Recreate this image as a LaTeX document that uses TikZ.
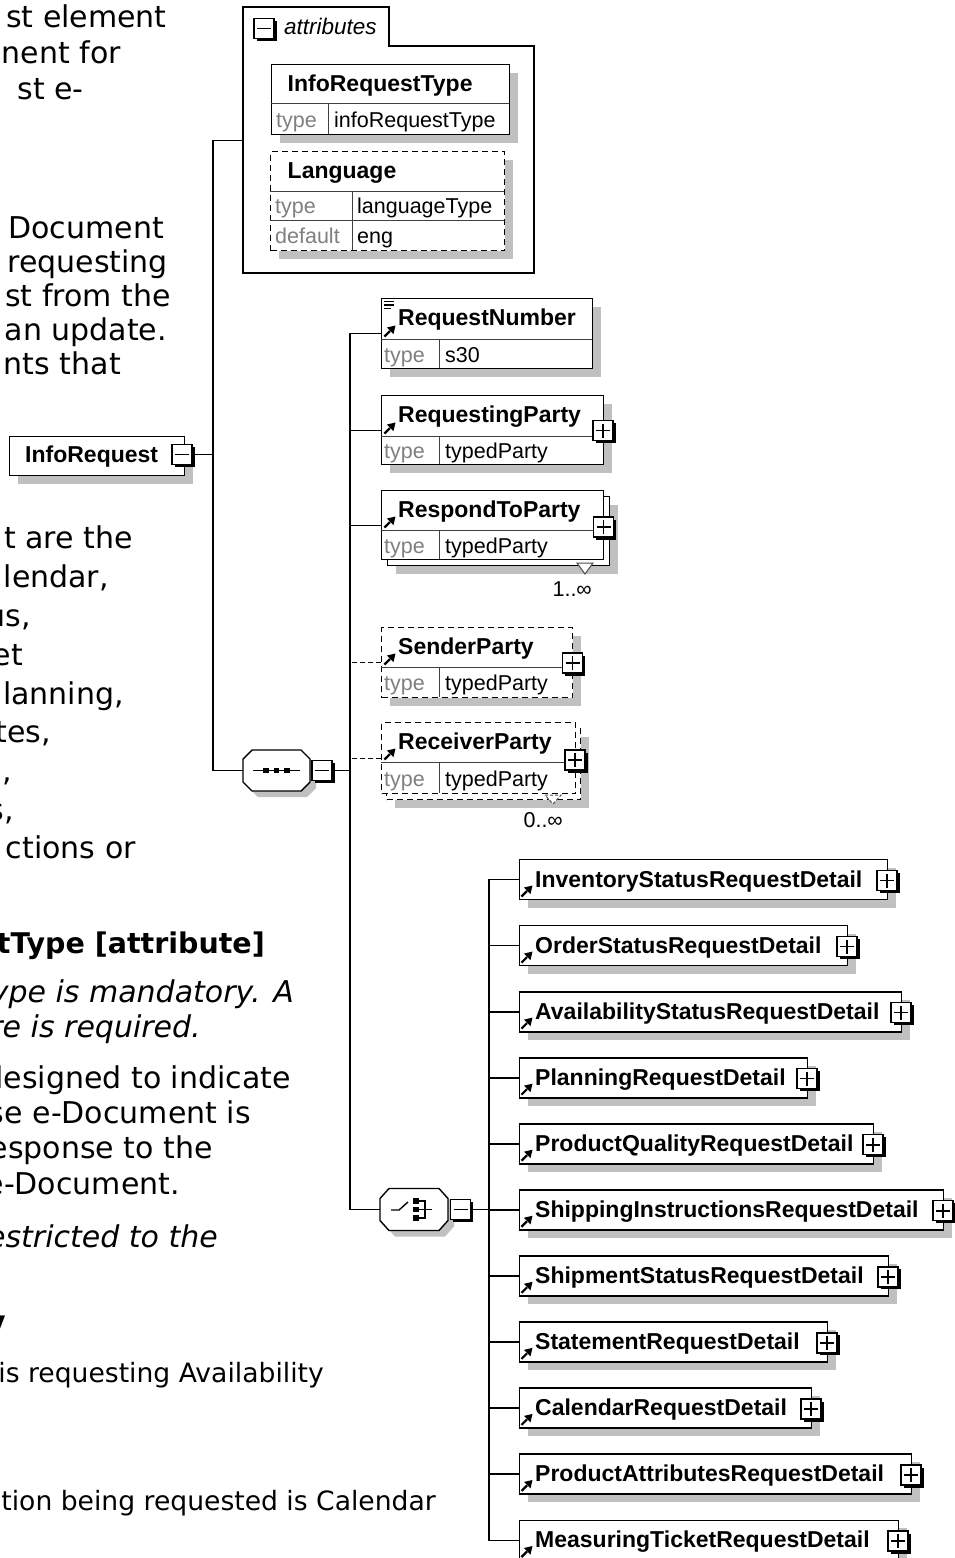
\documentclass[tikz,border=0pt]{standalone}
\usepackage{fontspec}
\setmainfont{DejaVu Sans}
\newfontfamily\liber{Liberation Sans}
\usetikzlibrary{shadows}
\definecolor{shadowgray}{RGB}{192,192,192}
\definecolor{typegray}{RGB}{128,128,128}
\newcommand\dlabel{\liber\bfseries\fontsize{23}{27}\selectfont}
\newcommand\dtype{\liber\fontsize{21.5}{25}\selectfont}
\newcommand\dital{\liber\itshape\fontsize{22.5}{26}\selectfont}
\newcommand\dbody{\fontsize{30}{36}\selectfont}
\newcommand\dhead{\bfseries\fontsize{28.5}{34}\selectfont}
\newcommand\dsmall{\fontsize{26.6}{31}\selectfont}
\newcommand\refarrow[2]{%
  \draw[line width=2.2pt] (#1+1.5,#2-0.5) -- (#1+7,#2-6);
  \fill (#1+12.5,#2-11.5) -- (#1+4,#2-9.5) -- (#1+10.5,#2-3) -- cycle;}
\tikzset{
  ebox/.style={draw=black, line width=1.4pt, fill=white, rectangle, inner sep=0pt, anchor=north west},
  dbox/.style={ebox, dash pattern=on 6pt off 4pt},
  shad/.style={drop shadow={shadow xshift=8pt, shadow yshift=-8pt, fill=shadowgray, opacity=1}},
  pmbase/.style={draw=black, line width=1.4pt, fill=white, minimum size=20pt, inner sep=0pt,
    drop shadow={shadow xshift=2.6pt, shadow yshift=-2.6pt, fill=black, opacity=1}},
  plusb/.style={pmbase, path picture={
    \draw[line width=1.6pt] ([xshift=-7pt]path picture bounding box.center) -- ([xshift=7pt]path picture bounding box.center);
    \draw[line width=1.6pt] ([yshift=-7pt]path picture bounding box.center) -- ([yshift=7pt]path picture bounding box.center);}},
  minusb/.style={pmbase, path picture={
    \draw[line width=1.6pt] ([xshift=-7pt]path picture bounding box.center) -- ([xshift=7pt]path picture bounding box.center);}},
  div/.style={line width=1pt, draw=black!75},
  hdr/.style={font=\dlabel, anchor=base west, inner sep=0pt},
  tlab/.style={font=\dtype, text=typegray, anchor=base west, inner sep=0pt},
  tval/.style={font=\dtype, anchor=base west, inner sep=0pt},
  conn/.style={line width=1.4pt},
  dconn/.style={conn, dash pattern=on 5pt off 3pt},
  bt/.style={font=\dbody, anchor=base east, inner sep=0pt},
  bti/.style={font=\dbody\itshape, anchor=base east, inner sep=0pt},
  anchorbox/.style={inner sep=0pt, draw=none},
}
\begin{document}
\begin{tikzpicture}[x=1pt,y=-1pt]
\useasboundingbox (0,0) rectangle (955,1558);
\fill[white] (0,0) rectangle (955,1558);

% ---------------- left text fragments ----------------
\node[bt] (t1) at (167,27) {st element};
\node[bt] (t2) at (121,63) {nent for};
\node[bt] (t3) at (84,99) {st e-};
\node[bt] (t4) at (164,238) {Document};
\node[bt] (t5) at (168,272) {requesting};
\node[bt] (t6) at (171,306) {st from the};
\node[bt] (t7) at (167,340) {an update.};
\node[bt] (t8) at (121,374) {nts that};
\node[bt] (t9) at (133,548) {t are the};
\node[bt] (t10) at (109,587) {lendar,};
\node[bt] (t11) at (31,626) {us,};
\node[bt] (t12) at (23,665) {et};
\node[bt] (t13) at (124,704) {lanning,};
\node[bt] (t14) at (51,742) {tes,};
\node[bt] (t15) at (12,781) {,};
\node[bt] (t16) at (14,820) {s,};
\node[bt] (t17) at (136,858) {ctions or};
\node[bt, font=\dhead] (t18) at (265,953) {tType [attribute]};
\node[bti] (t19) at (294,1002) {ype is mandatory. A};
\node[bti] (t20) at (201,1037) {re is required.};
\node[bt] (t21) at (291,1088) {lesigned to indicate};
\node[bt] (t22) at (251,1123) {se e-Document is};
\node[bt] (t23) at (213,1158) {esponse to the};
\node[bt] (t24) at (180,1194) {e-Document.};
\node[bti] (t25) at (218,1247) {estricted to the};
\node[bt, font=\dhead] (t26) at (6,1331) {y};
\node[bt, font=\dsmall] (t27) at (324,1382) {is requesting Availability};
\node[bt, font=\dsmall] (t28) at (436,1510) {tion being requested is Calendar};

% ---------------- attributes group ----------------
\node[anchorbox, minimum width=291pt, minimum height=266pt, anchor=north west] (attrs) at (243,7) {};
\draw[line width=1.4pt] (243,273) -- (243,7) -- (389,7) -- (389,46) -- (534,46) -- (534,273) -- cycle;
\node[minusb] (attm) at (264,28.5) {};
\node[font=\dital, anchor=base west, inner sep=0pt] (attl) at (284,34) {attributes};

\node[ebox, shad, minimum width=238pt, minimum height=70pt] (irt) at (271,64) {};
\draw[div] (271,103) -- (509,103);
\draw[div] (328.5,103) -- (328.5,134);
\node[hdr] (irth) at (287.5,91) {InfoRequestType};
\node[tlab] (irtl) at (276,127) {type};
\node[tval] (irtv) at (334,127) {infoRequestType};

\node[dbox, shad, minimum width=234pt, minimum height=99pt] (lang) at (270,151) {};
\draw[div] (270,191) -- (504,191);
\draw[div] (270,220) -- (504,220);
\draw[div] (352,191) -- (352,250);
\node[hdr] (langh) at (287.5,178) {Language};
\node[tlab] (langl1) at (275,213) {type};
\node[tval] (langv1) at (357,213) {languageType};
\node[tlab] (langl2) at (275,243) {default};
\node[tval] (langv2) at (357,243) {eng};

% ---------------- root element ----------------
\node[ebox, shad, minimum width=175pt, minimum height=39pt] (ir) at (9,436) {};
\node[hdr] (irh) at (25,462) {InfoRequest};
\node[minusb] (irm) at (182,454.5) {};

% ---------------- sequence compositor ----------------
\node[anchorbox, minimum width=67pt, minimum height=41pt] (seq) at (276.5,770.5) {};
\path[draw, fill=white, line width=1.4pt, drop shadow={shadow xshift=6pt, shadow yshift=-6pt, fill=shadowgray, opacity=1}]
  (243,759) -- (252,750) -- (301,750) -- (310,759) -- (310,782) -- (301,791) -- (252,791) -- (243,782) -- cycle;
\draw[line width=1.4pt] (253,770.5) -- (300,770.5);
\foreach \xx in {266,276.5,287} \fill (\xx-2.8,767.7) rectangle (\xx+2.8,773.3);
\node[minusb] (seqm) at (322,770.5) {};

% ---------------- choice compositor ----------------
\node[anchorbox, minimum width=68pt, minimum height=42pt] (cho) at (414,1209.5) {};
\path[draw, fill=white, line width=1.4pt, drop shadow={shadow xshift=6pt, shadow yshift=-6pt, fill=shadowgray, opacity=1}]
  (380,1198.5) -- (389,1188.5) -- (439,1188.5) -- (448,1198.5) -- (448,1220.5) -- (439,1230.5) -- (389,1230.5) -- (380,1220.5) -- cycle;
\draw[line width=1.4pt] (391,1210) -- (399,1210) -- (408,1202);
\foreach \yy in {1201,1209.5,1218} \fill (413,\yy-2.6) rectangle (418.5,\yy+2.6);
\draw[line width=1.4pt] (418,1201) -- (425,1201) -- (425,1218) -- (418,1218);
\draw[line width=1.4pt] (418,1209.5) -- (432,1209.5);
\node[minusb] (chm) at (460.5,1209.5) {};

% ---------------- sequence children ----------------
% RequestNumber
\node[ebox, shad, minimum width=211pt, minimum height=70pt] (rn) at (381,298) {};
\draw[div] (381,339) -- (592,339);
\draw[div] (439,339) -- (439,368);
\draw[line width=1.1pt] (384,301.5) -- (394,301.5) (384,305) -- (394,305) (384,308.5) -- (391,308.5);
\refarrow{383}{337}
\node[hdr] (rnh) at (398,325) {RequestNumber};
\node[tlab] (rnl) at (384,362) {type};
\node[tval] (rnv) at (445,362) {s30};

% RequestingParty
\node[ebox, shad, minimum width=222pt, minimum height=69pt] (rp) at (381,395) {};
\draw[div] (381,436) -- (603,436);
\draw[div] (439,436) -- (439,464);
\refarrow{383}{434}
\node[hdr] (rph) at (398,422) {RequestingParty};
\node[tlab] (rpl) at (384,458) {type};
\node[tval] (rpv) at (445,458) {typedParty};
\node[plusb] (rpp) at (603,430.5) {};

% RespondToParty (repeating)
\node[ebox, shad, minimum width=222pt, minimum height=69pt] (rtpb) at (387,496) {};
\node[ebox, minimum width=222pt, minimum height=69pt] (rtp) at (381,490) {};
\draw[div] (381,530) -- (603,530);
\draw[div] (439,530) -- (439,559);
\refarrow{383}{528}
\node[hdr] (rtph) at (398,517) {RespondToParty};
\node[tlab] (rtpl) at (384,553) {type};
\node[tval] (rtpv) at (445,553) {typedParty};
\node[plusb] (rtpp) at (603.5,527) {};
\filldraw[fill=white, draw=black!70, line width=1pt] (577,563) -- (593,563) -- (585,574) -- cycle;
\node[font=\dtype, anchor=base east, inner sep=0pt] (rtpo) at (592,596) {1..∞};

% SenderParty (optional)
\node[dbox, shad, minimum width=191pt, minimum height=70pt] (sp) at (381,627) {};
\draw[div] (381,667) -- (572,667);
\draw[div] (439,667) -- (439,697);
\refarrow{383}{665}
\node[hdr] (sph) at (398,654) {SenderParty};
\node[tlab] (spl) at (384,690) {type};
\node[tval] (spv) at (445,690) {typedParty};
\node[plusb] (spp) at (572.5,663) {};

% ReceiverParty (optional, repeating)
\node[dbox, shad, minimum width=194pt, minimum height=71pt] (recpb) at (386,728) {};
\node[dbox, minimum width=194pt, minimum height=71pt] (recp) at (381,722) {};
\draw[div] (381,762.5) -- (575,762.5);
\draw[div] (439,762.5) -- (439,793);
\refarrow{383}{760}
\node[hdr] (recph) at (398,749) {ReceiverParty};
\node[tlab] (recpl) at (384,786) {type};
\node[tval] (recpv) at (445,786) {typedParty};
\node[plusb] (recpp) at (575,760) {};
\draw[fill=white, draw=black!70, line width=1pt, dash pattern=on 3pt off 2pt] (545,795) -- (561,795) -- (553,804) -- cycle;
\node[font=\dtype, anchor=base east, inner sep=0pt] (recpo) at (563,827) {0..∞};

% ---------------- connectors ----------------
\coordinate (j1) at (213,454.5);
\coordinate (j2) at (350,770.5);
\coordinate (j3) at (489,1209.5);
\draw[conn] (irm.east) -- (j1);
\draw[conn] (attrs.west) -| (j1) |- (seq.west);
\draw[conn] (seqm.east) -- (j2);
\draw[conn] (rn.west) -| (j2) |- (cho.west);
\draw[conn] (rp.west) -- (rp.west -| j2);
\draw[conn] (rtp.west) -- (rtp.west -| j2);
\draw[dconn] (sp.west) -- (sp.west -| j2);
\draw[dconn] (recp.west) -- (recp.west -| j2);
\draw[conn] (chm.east) -- (j3);

% ---------------- choice children ----------------
\foreach \i/\w/\t in {1/368/InventoryStatusRequestDetail, 2/328/OrderStatusRequestDetail,
  3/382/AvailabilityStatusRequestDetail, 4/288/PlanningRequestDetail,
  5/354/ProductQualityRequestDetail, 6/424/ShippingInstructionsRequestDetail,
  7/369/ShipmentStatusRequestDetail, 8/308/StatementRequestDetail,
  9/292/CalendarRequestDetail, 10/392/ProductAttributesRequestDetail,
  11/379/MeasuringTicketRequestDetail}{
  \pgfmathsetmacro\yc{879+66.05*(\i-1)}
  \node[ebox, shad, minimum width=\w pt, minimum height=40pt] (d\i) at (519,\yc-20) {};
  \node[hdr] (dt\i) at (535,\yc+8) {\t};
  \refarrow{520}{\yc+18}
  \node[plusb] (dp\i) at (519+\w,\yc+1.5) {};
  \draw[conn] (d\i.west) -- (d\i.west -| j3);
}
\draw[conn] (d1.west) -| (j3) |- (d11.west);
\end{tikzpicture}
\end{document}
